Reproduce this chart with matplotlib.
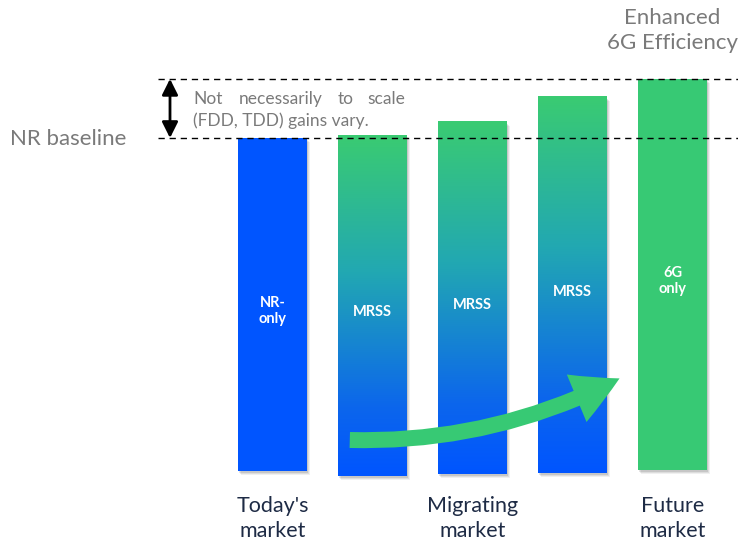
import matplotlib
matplotlib.use("Agg")
import matplotlib.pyplot as plt
import numpy as np
from matplotlib.colors import LinearSegmentedColormap
from matplotlib.patches import FancyArrowPatch, Rectangle
from matplotlib import font_manager as fm

# ---------------- data ----------------
categories = ["NR-only", "MRSS", "MRSS", "MRSS", "6G only"]
bar_labels = ["NR-\nonly", "MRSS", "MRSS", "MRSS", "6G\nonly"]
bar_tops = [1.000, 1.009, 1.048, 1.123, 1.177]       # relative to NR baseline
bar_bottoms = [0.003, -0.012, -0.006, -0.003, 0.006]
bar_styles = ["blue", "grad", "grad", "grad", "green"]
market_labels = ["Today's\nmarket", "Migrating\nmarket", "Future\nmarket"]
market_positions = [0, 2, 4]
baseline_value = 1.0
enhanced_value = 1.177

BLUE = "#0055FF"
GREEN = "#37C974"
GREY = "#7A7A7A"
NAVY = "#1E2B45"

names = {f.name for f in fm.fontManager.ttflist}
FONT = "Lato" if "Lato" in names else "DejaVu Sans"

fig = plt.figure(figsize=(7.38, 5.46), dpi=100)
ax = fig.add_axes([0, 0, 1, 1])
ax.set_xlim(-2.725, 4.655)
ax.set_ylim(-0.2216, 1.4132)
ax.axis("off")

grad_cmap = LinearSegmentedColormap.from_list(
    "g", [(0.0, "#3ACB72"), (0.40, "#22A8B2"), (0.80, "#0C66EC"), (1.0, "#0055FF")])

width = 0.69
x = np.arange(len(categories))
for i, (top, bot, st) in enumerate(zip(bar_tops, bar_bottoms, bar_styles)):
    # soft shadow
    for k, a in zip([0.05, 0.035, 0.02], [0.06, 0.08, 0.10]):
        ax.add_patch(Rectangle((x[i] - width / 2 + k * 0.5, bot - k * 0.25), width, top - bot,
                               facecolor="black", alpha=a, edgecolor="none", zorder=1))
    if st == "grad":
        grad = np.linspace(0, 1, 256).reshape(-1, 1)
        ax.imshow(grad, cmap=grad_cmap, aspect="auto",
                  extent=(x[i] - width / 2, x[i] + width / 2, bot, top),
                  origin="upper", zorder=2, interpolation="bilinear")
    else:
        ax.bar(x[i], top - bot, bottom=bot, width=width,
               color=BLUE if st == "blue" else GREEN, zorder=2)
    mid = (top + bot) / 2 - 0.02
    ax.text(x[i], mid, bar_labels[i], color="white", ha="center", va="center",
            fontsize=10.5, family=FONT, weight="bold", linespacing=1.2, zorder=5)

ax.set_xlim(-2.725, 4.655)
ax.set_ylim(-0.2216, 1.4132)

# dashed reference lines
for v in [baseline_value, enhanced_value]:
    ax.plot([-1.145, 4.655], [v, v], color="black", lw=1.0,
            dashes=(4.5, 3.5), zorder=4)

# double arrow
ax.annotate("", xy=(-1.025, enhanced_value), xytext=(-1.025, baseline_value),
            arrowprops=dict(arrowstyle="<|-|>", color="black", lw=2,
                            mutation_scale=24, shrinkA=0, shrinkB=0), zorder=6)

# justified note text
words1 = [("Not", -0.795), ("necessarily", -0.335), ("to", 0.655), ("scale", 0.945)]
for w, xp in words1:
    ax.text(xp, 1.117, w, color=GREY, fontsize=12.5, family=FONT,
            ha="left", va="center")
ax.text(-0.795, 1.053, "(FDD, TDD) gains vary.", color=GREY, fontsize=12.5,
        family=FONT, ha="left", va="center")

ax.text(-2.625, 0.998, "NR baseline", color=GREY, fontsize=16, family=FONT,
        ha="left", va="center")
ax.text(4.0, 1.322, "Enhanced\n6G Efficiency", color=GREY, fontsize=16,
        family=FONT, ha="center", va="center", linespacing=1.3)

for lab, p in zip(market_labels, market_positions):
    ax.text(p, -0.139, lab, color=NAVY, fontsize=15.5, family=FONT,
            ha="center", va="center", linespacing=1.3)

# curved green arrow
arrow = FancyArrowPatch((0.745, 0.096), (3.495, 0.284),
                        connectionstyle="arc3,rad=0.13",
                        arrowstyle="simple,head_length=34,head_width=37,tail_width=11.5",
                        mutation_scale=1, color=GREEN, zorder=7, lw=0)
ax.add_patch(arrow)

fig.savefig("out.png", dpi=100)
